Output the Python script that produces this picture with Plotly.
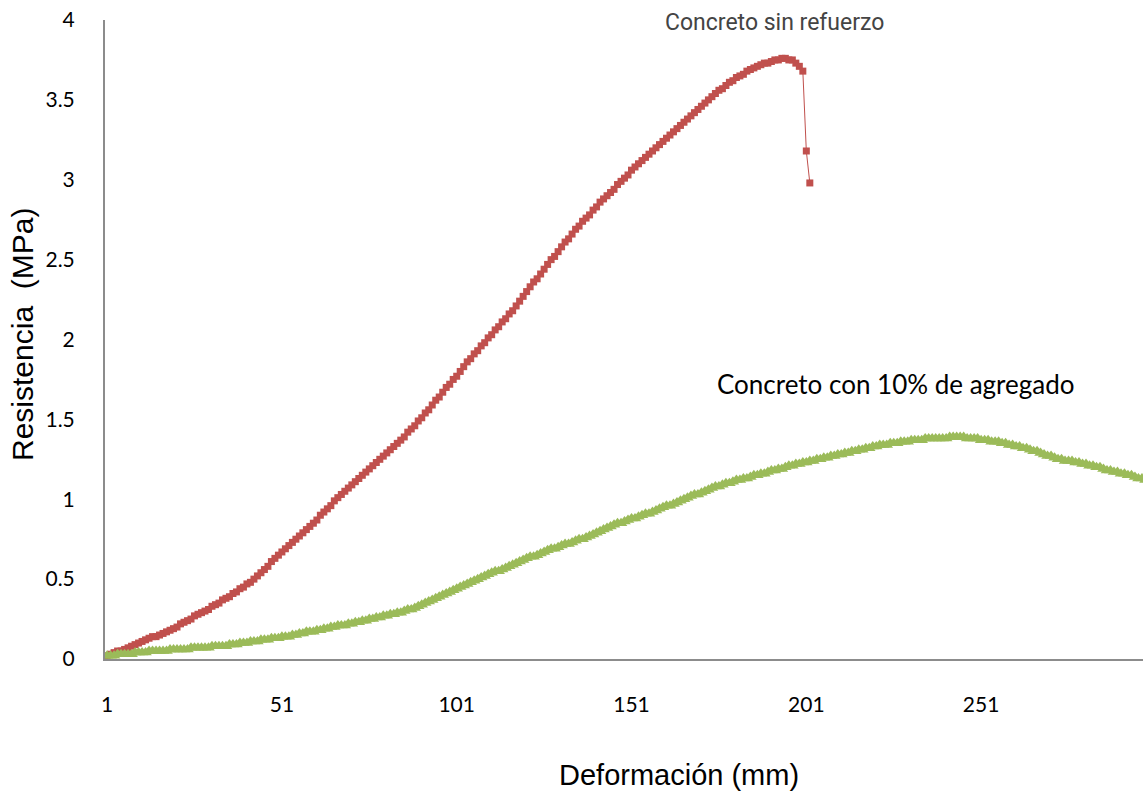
import plotly.graph_objects as go

# Resistencia (MPa) por punto de lectura
sin_refuerzo = [
    0.02, 0.03, 0.04, 0.05, 0.05, 0.06, 0.07, 0.08, 0.09, 0.10,
    0.11, 0.12, 0.13, 0.14, 0.14, 0.15, 0.16, 0.17, 0.18, 0.19,
    0.20, 0.22, 0.23, 0.24, 0.25, 0.27, 0.28, 0.29, 0.30, 0.31,
    0.33, 0.34, 0.35, 0.37, 0.38, 0.39, 0.41, 0.42, 0.44, 0.45,
    0.47, 0.48, 0.50, 0.52, 0.54, 0.56, 0.58, 0.61, 0.63, 0.65,
    0.67, 0.69, 0.71, 0.73, 0.75, 0.77, 0.79, 0.81, 0.83, 0.85,
    0.87, 0.90, 0.92, 0.94, 0.96, 0.99, 1.01, 1.03, 1.05, 1.07,
    1.09, 1.11, 1.13, 1.15, 1.17, 1.19, 1.21, 1.23, 1.25, 1.27,
    1.29, 1.31, 1.33, 1.35, 1.37, 1.39, 1.42, 1.44, 1.46, 1.49,
    1.51, 1.54, 1.56, 1.59, 1.62, 1.64, 1.67, 1.70, 1.72, 1.75,
    1.77, 1.80, 1.83, 1.86, 1.88, 1.91, 1.93, 1.96, 1.98, 2.01,
    2.03, 2.06, 2.08, 2.11, 2.13, 2.16, 2.18, 2.21, 2.24, 2.27,
    2.30, 2.33, 2.36, 2.38, 2.41, 2.44, 2.47, 2.50, 2.52, 2.55,
    2.58, 2.61, 2.63, 2.66, 2.69, 2.71, 2.74, 2.76, 2.78, 2.81,
    2.83, 2.86, 2.88, 2.90, 2.92, 2.94, 2.97, 2.99, 3.01, 3.03,
    3.06, 3.08, 3.10, 3.12, 3.14, 3.16, 3.18, 3.20, 3.22, 3.24,
    3.26, 3.28, 3.30, 3.32, 3.34, 3.36, 3.38, 3.40, 3.42, 3.44,
    3.46, 3.48, 3.50, 3.52, 3.54, 3.56, 3.57, 3.59, 3.61, 3.62,
    3.64, 3.65, 3.66, 3.68, 3.69, 3.70, 3.71, 3.72, 3.73, 3.73,
    3.74, 3.75, 3.75, 3.76, 3.76, 3.75, 3.75, 3.73, 3.71, 3.68,
    3.18, 2.98,
]

con_agregado = [
    0.02, 0.02, 0.02, 0.03, 0.03, 0.03, 0.03, 0.03, 0.04, 0.04,
    0.04, 0.04, 0.05, 0.05, 0.05, 0.05, 0.05, 0.05, 0.06, 0.06,
    0.06, 0.06, 0.06, 0.06, 0.07, 0.07, 0.07, 0.07, 0.07, 0.07,
    0.08, 0.08, 0.08, 0.08, 0.08, 0.09, 0.09, 0.09, 0.10, 0.10,
    0.10, 0.11, 0.11, 0.11, 0.12, 0.12, 0.12, 0.13, 0.13, 0.13,
    0.14, 0.14, 0.14, 0.15, 0.15, 0.16, 0.16, 0.17, 0.17, 0.17,
    0.18, 0.18, 0.19, 0.19, 0.20, 0.20, 0.21, 0.21, 0.21, 0.22,
    0.22, 0.23, 0.23, 0.24, 0.24, 0.25, 0.25, 0.26, 0.26, 0.27,
    0.27, 0.28, 0.28, 0.29, 0.29, 0.30, 0.31, 0.31, 0.32, 0.33,
    0.34, 0.35, 0.36, 0.37, 0.38, 0.39, 0.40, 0.41, 0.42, 0.43,
    0.44, 0.45, 0.46, 0.47, 0.48, 0.49, 0.50, 0.51, 0.52, 0.53,
    0.54, 0.55, 0.55, 0.56, 0.57, 0.58, 0.59, 0.60, 0.61, 0.62,
    0.63, 0.64, 0.64, 0.65, 0.66, 0.67, 0.68, 0.69, 0.69, 0.70,
    0.71, 0.72, 0.72, 0.73, 0.74, 0.75, 0.75, 0.76, 0.77, 0.78,
    0.79, 0.80, 0.81, 0.82, 0.83, 0.84, 0.85, 0.85, 0.86, 0.87,
    0.88, 0.88, 0.89, 0.90, 0.91, 0.91, 0.92, 0.93, 0.94, 0.95,
    0.96, 0.96, 0.97, 0.98, 0.99, 1.00, 1.01, 1.02, 1.03, 1.03,
    1.04, 1.05, 1.06, 1.07, 1.08, 1.08, 1.09, 1.10, 1.10, 1.11,
    1.12, 1.12, 1.13, 1.13, 1.14, 1.15, 1.15, 1.16, 1.16, 1.17,
    1.18, 1.18, 1.19, 1.19, 1.20, 1.21, 1.21, 1.22, 1.22, 1.23,
    1.23, 1.24, 1.24, 1.25, 1.25, 1.26, 1.26, 1.27, 1.27, 1.28,
    1.28, 1.29, 1.29, 1.30, 1.30, 1.31, 1.31, 1.32, 1.32, 1.33,
    1.33, 1.34, 1.34, 1.34, 1.35, 1.35, 1.35, 1.36, 1.36, 1.36,
    1.37, 1.37, 1.37, 1.37, 1.38, 1.38, 1.38, 1.38, 1.38, 1.38,
    1.38, 1.39, 1.39, 1.39, 1.39, 1.39, 1.38, 1.38, 1.38, 1.38,
    1.37, 1.37, 1.37, 1.36, 1.36, 1.36, 1.35, 1.35, 1.34, 1.34,
    1.33, 1.33, 1.32, 1.32, 1.31, 1.30, 1.30, 1.29, 1.28, 1.27,
    1.27, 1.26, 1.25, 1.25, 1.24, 1.24, 1.24, 1.23, 1.23, 1.22,
    1.22, 1.21, 1.21, 1.20, 1.20, 1.19, 1.18, 1.18, 1.17, 1.17,
    1.16, 1.16, 1.15, 1.15, 1.14, 1.13, 1.13, 1.12, 1.12, 1.11,
]

x_rojo = list(range(1, len(sin_refuerzo) + 1))
x_verde = list(range(1, len(con_agregado) + 1))

x_ticks = [1, 51, 101, 151, 201, 251]
y_ticks = [0, 0.5, 1, 1.5, 2, 2.5, 3, 3.5, 4]
y_tick_text = ["0", "0.5", "1", "1.5", "2", "2.5", "3", "3.5", "4"]

ROJO = "#C0504D"
VERDE = "#9BBB59"
EJE = "#8C8C8C"

W, H = 1143, 791
ML, MR, MT, MB = 105, 0, 20, 132
PW, PH = W - ML - MR, H - MT - MB


def px(xp, yp):
    """Pixel position on the page -> paper coordinates."""
    return (xp - ML) / PW, (H - MB - yp) / PH


fig = go.Figure()

fig.add_trace(go.Scatter(
    x=x_rojo, y=sin_refuerzo, mode="lines+markers",
    line=dict(color=ROJO, width=1),
    marker=dict(symbol="square", size=7, color=ROJO),
    name="Concreto sin refuerzo", showlegend=False,
))

fig.add_trace(go.Scatter(
    x=x_verde, y=con_agregado, mode="lines+markers",
    line=dict(color=VERDE, width=1),
    marker=dict(symbol="triangle-up", size=11, color=VERDE),
    name="Concreto con 10% de agregado", showlegend=False,
))

fig.update_xaxes(
    range=[0.4, 297.3], tickvals=x_ticks, ticktext=[str(v) for v in x_ticks],
    showline=True, linecolor=EJE, linewidth=2, showgrid=False, zeroline=False,
    ticks="", ticklabelstandoff=26,
    tickfont=dict(family="Lato", size=21, color="#000000"),
)
fig.update_yaxes(
    range=[0, 4], tickvals=y_ticks, ticktext=y_tick_text,
    showline=True, linecolor=EJE, linewidth=2, showgrid=False, zeroline=False,
    ticks="", ticklabelstandoff=24,
    tickfont=dict(family="Lato", size=21, color="#000000"),
)

anots = []
ax, ay = px(22, 335)
anots.append(dict(text="Resistencia  (MPa)", x=ax, y=ay, textangle=-90,
                  font=dict(family="Liberation Sans", size=30, color="#000000")))
ax, ay = px(679, 775)
anots.append(dict(text="Deformación (mm)", x=ax, y=ay,
                  font=dict(family="Liberation Sans", size=29, color="#000000")))
ax, ay = px(774, 22)
anots.append(dict(text="Concreto sin refuerzo", x=ax, y=ay,
                  font=dict(family="Roboto", size=23, color="#444444")))
ax, ay = px(896, 384)
anots.append(dict(text="Concreto con 10% de agregado", x=ax, y=ay,
                  font=dict(family="Lato", size=26, color="#000000")))
for a in anots:
    a.update(xref="paper", yref="paper", showarrow=False,
             xanchor="center", yanchor="middle")

fig.update_layout(
    width=W, height=H,
    margin=dict(l=ML, r=MR, t=MT, b=MB),
    paper_bgcolor="white", plot_bgcolor="white",
    annotations=anots,
)

fig.write_html("out.html")
